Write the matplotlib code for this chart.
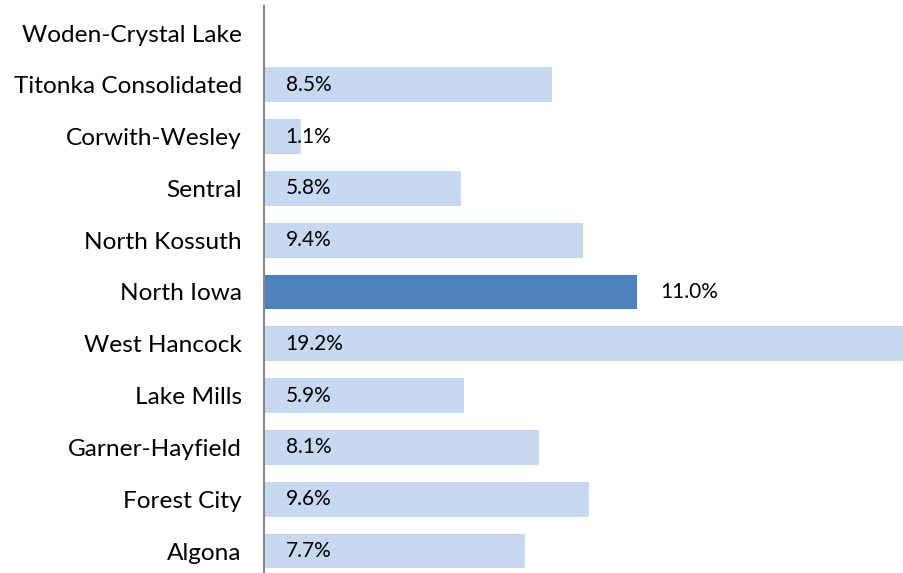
import numpy as np
import matplotlib
matplotlib.use("Agg")
import matplotlib.pyplot as plt

# Districts listed bottom to top
districts = ["Algona", "Forest City", "Garner-Hayfield", "Lake Mills", "West Hancock",
             "North Iowa", "North Kossuth", "Sentral", "Corwith-Wesley",
             "Titonka Consolidated", "Woden-Crystal Lake"]
values = [7.7, 9.6, 8.1, 5.9, 19.2, 11.0, 9.4, 5.8, 1.1, 8.5, np.nan]
highlight = "North Iowa"

light = "#C6D9F1"
dark = "#4F81BD"

plt.rcParams["font.family"] = ["Lato", "DejaVu Sans"]

fig = plt.figure(figsize=(9.04, 5.73), dpi=100)
ax = fig.add_axes([264 / 904, 0, 640 / 904, 1 - 6 / 573])

y = np.arange(len(districts))
colors = [dark if d == highlight else light for d in districts]
bars = ax.barh(y, np.nan_to_num(values), height=0.675, color=colors)

# Value labels: inside bar at left, or right of the highlighted bar
for yi, d, v in zip(y, districts, values):
    if np.isnan(v):
        continue
    if d == highlight:
        ax.annotate(f"{v:.1f}%", xy=(v, yi), xytext=(16.5, 0), textcoords="offset points",
                    ha="left", va="center", fontsize=15, color="black")
    else:
        ax.annotate(f"{v:.1f}%", xy=(0, yi), xytext=(15.5, 0), textcoords="offset points",
                    ha="left", va="center", fontsize=15, color="black")

ax.set_xlim(0, 640 / 33.9)
ax.set_ylim(-22 / 51.8, 10 + 27 / 51.8)
ax.set_yticks(y)
ax.set_yticklabels(districts, fontsize=17.6)
ax.tick_params(axis="y", length=0, pad=16)
ax.set_xticks([])

for side in ["top", "right", "bottom"]:
    ax.spines[side].set_visible(False)
ax.spines["left"].set_color("#868686")
ax.spines["left"].set_linewidth(1.5)

fig.savefig("out.png", dpi=100)
